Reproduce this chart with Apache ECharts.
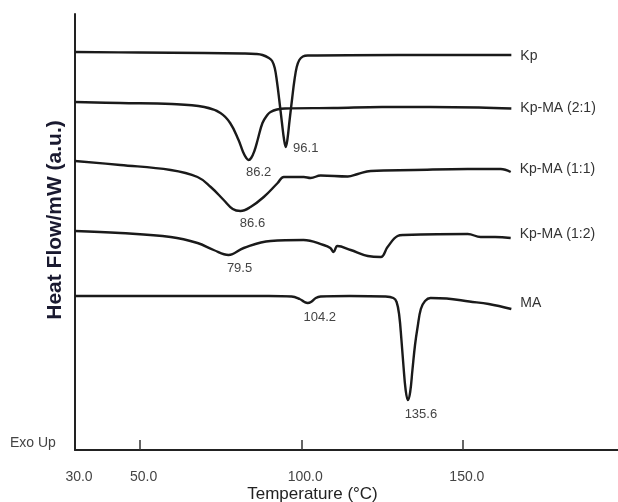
<!DOCTYPE html>
<html>
<head>
<meta charset="utf-8">
<script src="https://cdn.jsdelivr.net/npm/echarts@6/dist/echarts.min.js"></script>
<style>
  html, body { margin: 0; padding: 0; background: #fff; }
  #chart { width: 618px; height: 502px; }
</style>
</head>
<body>
<div id="chart"></div>
<script>
// temperature (°C), heat flow (a.u., traces stacked with an offset)
var kp = [
  [30, 398], [50, 397.5], [70, 397], [82, 396.5], [86, 396], [88, 395], [90, 392],
  [91, 389], [91.8, 382], [92.5, 368], [93.2, 350], [94, 328], [94.7, 310], [95.2, 303],
  [95.7, 310], [96.4, 330], [97.2, 352], [97.9, 370], [98.6, 383], [99.4, 390],
  [100.5, 393.5], [102, 394.5], [130, 395], [165, 395]
]
var kpMa21 = [
  [30, 348], [44, 347], [60, 346], [70, 343], [75, 337], [78, 327], [80.6, 310],
  [82, 298], [83, 292], [83.7, 290], [84.5, 292], [85.5, 299], [86.5, 310], [88, 327],
  [89.5, 335], [90.5, 338], [92.5, 340.5], [95, 341.5], [110, 342], [125, 343],
  [140, 343], [155, 342.5], [165, 341.5]
]
var kpMa11 = [
  [30, 289], [44, 285], [59.6, 280], [67.9, 273], [72, 263], [76, 250], [78.8, 241],
  [81.2, 239], [84.3, 243], [88.4, 253], [92.7, 267], [94.6, 273], [100.8, 273],
  [102.9, 272], [106, 274.5], [114.4, 273.5], [117.5, 276], [121.5, 279],
  [135, 280], [151.5, 281], [161.7, 281], [164.8, 278]
]
var kpMa12 = [
  [30, 219], [44, 217], [59.6, 213], [67.9, 207], [72.9, 200], [77.5, 195], [82.2, 202],
  [90.5, 209], [100.7, 210], [106.9, 205], [109, 202], [110, 198], [111.2, 204],
  [115.3, 200], [120.6, 194], [124.6, 193], [126.7, 203], [129.8, 214], [131.7, 215],
  [151.5, 216], [155.5, 213], [160, 213], [164.8, 212]
]
var ma = [
  [30, 154], [60, 154], [90, 154], [97, 153.5], [99.5, 151], [101, 148], [102, 147],
  [103, 148], [104.5, 152], [106, 153.5], [115, 154], [126, 153.5], [128.5, 152],
  [129.5, 148], [130.3, 135], [131, 110], [131.6, 85], [132.3, 60], [133, 50],
  [133.7, 58], [134.4, 80], [135.2, 105], [136, 123], [137, 141], [138.3, 149],
  [140, 152], [145, 151.5], [152, 148.5], [158, 146], [165, 141]
]

var seriesNames = ['Kp', 'Kp-MA (2:1)', 'Kp-MA (1:1)', 'Kp-MA (1:2)', 'MA']
var seriesData = [kp, kpMa21, kpMa11, kpMa12, ma]

// peak annotations: series index, label, temperature, value
var peakSeries = [0, 1, 2, 3, 4, 4]
var peakText = ['96.1', '86.2', '86.6', '79.5', '104.2', '135.6']
var peakT = [95.2, 83.7, 81.2, 77.5, 102, 133]
var peakV = [303, 290, 239, 195, 147, 50]

var tickLabels = [30, 50, 100, 150]
var tickMarks = [50, 100, 150]

// label offsets (layout only)
var peakOffset = [[20, 1], [10, 12], [12, 12], [11, 13], [12, 14], [13, 14]]
var endOffset = [[0, 1], [0, 0], [0, -3], [0, -4], [0, -6]]

var font = 'Liberation Sans, Arial, sans-serif'
var series = seriesData.map(function (d, i) {
  var marks = []
  peakSeries.forEach(function (s, k) {
    if (s === i) {
      marks.push({
        coord: [peakT[k], peakV[k]],
        value: peakText[k],
        label: { offset: peakOffset[k] }
      })
    }
  })
  return {
    name: seriesNames[i],
    type: 'line',
    data: d,
    smooth: 0.4,
    showSymbol: false,
    silent: true,
    lineStyle: { color: '#1a1a1a', width: 2.4 },
    endLabel: {
      show: true,
      formatter: '{a}',
      distance: 9,
      offset: endOffset[i],
      fontFamily: font,
      fontSize: 14,
      color: '#333'
    },
    markPoint: {
      symbol: 'circle',
      symbolSize: 0,
      label: {
        show: true,
        position: 'inside',
        formatter: '{c}',
        fontFamily: font,
        fontSize: 13,
        color: '#444'
      },
      data: marks
    }
  }
})

var chart = echarts.init(document.getElementById('chart'))
chart.setOption({
  animation: false,
  backgroundColor: '#fff',
  grid: { left: 75, top: 14, width: 543, height: 436, outerBoundsMode: 'none', containLabel: false },
  xAxis: {
    type: 'value',
    min: 30,
    max: 198,
    name: 'Temperature (°C)',
    nameLocation: 'middle',
    nameGap: 36,
    nameMoveOverlap: false,
    nameTextStyle: { fontFamily: font, fontSize: 17, color: '#222', padding: [0, 68, 0, 0] },
    axisLine: { lineStyle: { color: '#222', width: 2 } },
    axisTick: { show: true, inside: true, length: 10, customValues: tickMarks, lineStyle: { color: '#333', width: 1.5 } },
    axisLabel: {
      customValues: tickLabels,
      formatter: function (v) { return v.toFixed(1) },
      margin: 20,
      padding: [0, 0, 0, 8],
      fontFamily: 'Liberation Sans Narrow, Liberation Sans, Arial, sans-serif',
      fontSize: 14,
      color: '#444'
    },
    splitLine: { show: false }
  },
  yAxis: {
    type: 'value',
    min: 0,
    max: 436,
    name: 'Heat Flow/mW (a.u.)',
    nameLocation: 'middle',
    nameRotate: 90,
    nameGap: 9,
    nameTextStyle: { fontFamily: font, fontSize: 21, fontWeight: 'bold', color: '#1a1a30', padding: [0, 0, 0, 24] },
    axisLine: { show: true, lineStyle: { color: '#222', width: 2 } },
    axisTick: { show: false },
    axisLabel: { show: false },
    splitLine: { show: false }
  },
  graphic: [{
    type: 'text',
    left: 10,
    top: 436,
    style: { text: 'Exo Up', fontFamily: font, fontSize: 14, fill: '#444' }
  }],
  series: series
})
</script>
</body>
</html>
